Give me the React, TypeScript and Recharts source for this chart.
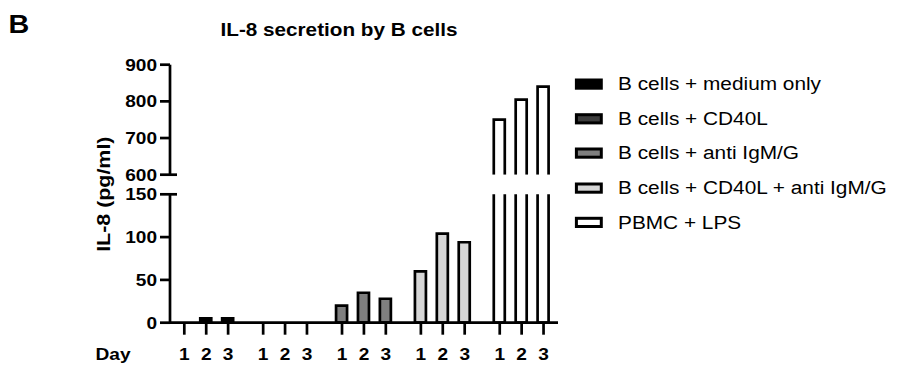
import React from "react";
import { BarChart, Bar, XAxis, YAxis } from "recharts";

const CONDITIONS = [
  "B cells + medium only",
  "B cells + CD40L",
  "B cells + anti IgM/G",
  "B cells + CD40L + anti IgM/G",
  "PBMC + LPS",
];
const DAYS = ["1", "2", "3"];

// IL-8 (pg/ml) per condition, day 1..3
const MEDIUM_ONLY = [0, 5, 5];
const CD40L = [0, 0, 0];
const ANTI_IGMG = [20, 35, 28];
const CD40L_ANTI_IGMG = [60, 104, 94];
const PBMC_LPS = [750, 805, 840];

const LOWER_TICKS = [0, 50, 100, 150];
const UPPER_TICKS = [600, 700, 800, 900];

const VALUES = [MEDIUM_ONLY, CD40L, ANTI_IGMG, CD40L_ANTI_IGMG, PBMC_LPS];
const FILLS = ["#000000", "#3d3d3d", "#7f7f7f", "#d6d6d6", "#ffffff"];

const W = 897;
const H = 367;
const PLOT_LEFT = 170;
const PLOT_RIGHT = 558;
const LOWER_TOP = 194.3;
const LOWER_BOTTOM = 322.7;
const UPPER_TOP = 64.7;
const UPPER_BOTTOM = 174.7;
const Y_AXIS_W = 60;
const X_AXIS_H = 40;
const X_DOMAIN: [number, number] = [-0.653, 17.06];
const GROUP_STEP = 3.6;
const SX = 1.17;
const FONT = "'Liberation Sans', Arial, sans-serif";
const STROKE = 2.7;

const lowerMax = LOWER_TICKS[LOWER_TICKS.length - 1];
const upperMin = UPPER_TICKS[0];

const pos = (g: number, d: number) => g * GROUP_STEP + d;

const lowerRows: any[] = [];
const upperRows: any[] = [];
VALUES.forEach((vals, g) => {
  vals.forEach((v, d) => {
    lowerRows.push({ x: pos(g, d), day: DAYS[d], group: g, value: Math.min(v, lowerMax), cut: v > lowerMax });
    upperRows.push({ x: pos(g, d), day: DAYS[d], group: g, value: v >= upperMin ? v : null });
  });
});
const xTicks = lowerRows.map((r) => r.x);

function SText({ x, y, anchor = "start", size, weight = 700, sx = SX, children }: any) {
  return (
    <text
      transform={`translate(${x} ${y}) scale(${sx} 1)`}
      textAnchor={anchor}
      fontSize={size}
      fontWeight={weight}
      fontFamily={FONT}
      fill="#000"
    >
      {children}
    </text>
  );
}

function YTick({ x, y, payload, caps }: any) {
  return (
    <g>
      <SText x={x} y={y + 5.9} anchor="end" size={16.3}>
        {payload.value}
      </SText>
      {caps.includes(payload.value) && (
        <line x1={PLOT_LEFT} x2={PLOT_LEFT + 7} y1={y} y2={y} stroke="#000" strokeWidth={STROKE} />
      )}
    </g>
  );
}

function XTick({ x, y, payload }: any) {
  const row = lowerRows.find((r) => Math.abs(r.x - payload.value) < 1e-6);
  return (
    <SText x={x} y={y + 25.3} anchor="middle" size={16.3}>
      {row ? row.day : ""}
    </SText>
  );
}

function LowerBar(props: any) {
  const { x, y, width, height, payload } = props;
  if (!height || height <= 0) return null;
  const fill = FILLS[payload.group];
  const outline = payload.cut
    ? `M${x},${y} V${y + height} H${x + width} V${y}`
    : `M${x},${y} V${y + height} H${x + width} V${y} Z`;
  return (
    <g>
      <rect x={x} y={y} width={width} height={height} fill={fill} />
      <path d={outline} fill="none" stroke="#000" strokeWidth={STROKE} />
    </g>
  );
}

function UpperBar(props: any) {
  const { x, y, width, height, payload } = props;
  if (!height || height <= 0) return null;
  const fill = FILLS[payload.group];
  return (
    <g>
      <rect x={x} y={y} width={width} height={height} fill={fill} />
      <path d={`M${x},${y + height} V${y} H${x + width} V${y + height}`} fill="none" stroke="#000" strokeWidth={STROKE} />
    </g>
  );
}

const LEGEND_Y = [84, 118.7, 153, 188, 222.3];

export default function App() {
  const axisLine = { stroke: "#000", strokeWidth: STROKE };
  return (
    <div style={{ position: "absolute", left: 0, top: 0, width: W, height: H, background: "#fff" }}>
      <div style={{ position: "absolute", left: 0, top: 0 }}>
        <BarChart
          width={W}
          height={H}
          data={lowerRows}
          margin={{ top: LOWER_TOP, right: W - PLOT_RIGHT, bottom: H - LOWER_BOTTOM - X_AXIS_H, left: PLOT_LEFT - Y_AXIS_W }}
        >
          <XAxis
            dataKey="x"
            type="number"
            domain={X_DOMAIN}
            allowDataOverflow
            ticks={xTicks}
            interval={0}
            height={X_AXIS_H}
            axisLine={axisLine}
            tickLine={axisLine}
            tickSize={12}
            tickMargin={0}
            tick={<XTick />}
          />
          <YAxis
            type="number"
            domain={[0, lowerMax]}
            ticks={LOWER_TICKS}
            interval={0}
            width={Y_AXIS_W}
            axisLine={axisLine}
            tickLine={axisLine}
            tickSize={10}
            tickMargin={3}
            tick={<YTick caps={[lowerMax]} />}
          />
          <Bar dataKey="value" barSize={11} shape={<LowerBar />} isAnimationActive={false} />
        </BarChart>
      </div>
      <div style={{ position: "absolute", left: 0, top: 0 }}>
        <BarChart
          width={W}
          height={H}
          data={upperRows}
          margin={{ top: UPPER_TOP, right: W - PLOT_RIGHT, bottom: H - UPPER_BOTTOM, left: PLOT_LEFT - Y_AXIS_W }}
        >
          <XAxis dataKey="x" type="number" domain={X_DOMAIN} allowDataOverflow ticks={xTicks} hide />
          <YAxis
            type="number"
            domain={[upperMin, 900]}
            allowDataOverflow
            ticks={UPPER_TICKS}
            interval={0}
            width={Y_AXIS_W}
            axisLine={axisLine}
            tickLine={axisLine}
            tickSize={10}
            tickMargin={3}
            tick={<YTick caps={[upperMin]} />}
          />
          <Bar dataKey="value" barSize={11} shape={<UpperBar />} isAnimationActive={false} />
        </BarChart>
      </div>
      <svg width={W} height={H} style={{ position: "absolute", left: 0, top: 0, pointerEvents: "none" }}>
        <SText x={8.5} y={33.3} size={25} sx={1.15}>B</SText>
        <SText x={220.5} y={36} size={17.7}>IL-8 secretion by B cells</SText>
        <text
          transform="translate(109.5 194.2) rotate(-90) scale(1.19 1)"
          textAnchor="middle"
          fontSize={18}
          fontWeight={700}
          fontFamily={FONT}
          fill="#000"
        >
          IL-8 (pg/ml)
        </text>
        <SText x={95.5} y={360} size={16.8} sx={1.14}>Day</SText>
        {CONDITIONS.map((c, i) => (
          <g key={c}>
            <rect x={576.4} y={LEGEND_Y[i] - 4} width={24.9} height={8.2} fill={FILLS[i]} stroke="#000" strokeWidth={3} />
            <SText x={618} y={LEGEND_Y[i] + 6.3} size={17.8} weight={400}>
              {c}
            </SText>
          </g>
        ))}
      </svg>
    </div>
  );
}
